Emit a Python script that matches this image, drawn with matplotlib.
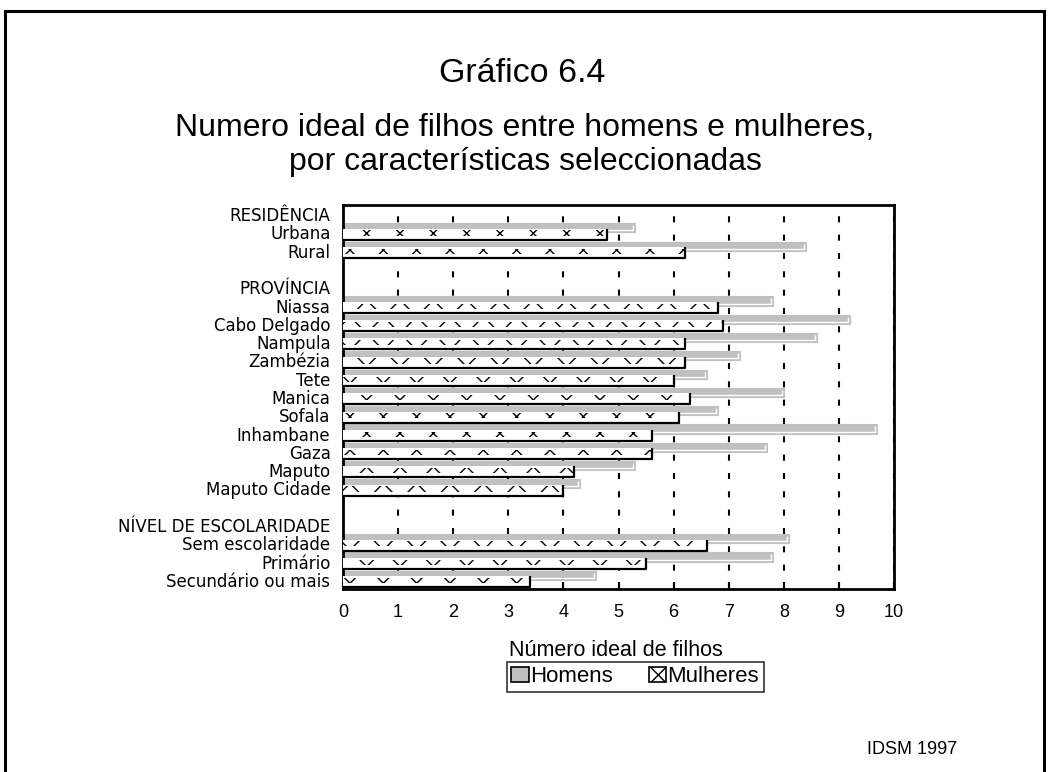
import numpy as np
import matplotlib
matplotlib.use("Agg")
import matplotlib.pyplot as plt
from matplotlib.patches import Patch
from matplotlib.lines import Line2D

# -----------------------------
# Data
# -----------------------------
row_labels = [
    "RESIDÊNCIA", "Urbana", "Rural", "",
    "PROVÍNCIA", "Niassa", "Cabo Delgado", "Nampula", "Zambézia", "Tete",
    "Manica", "Sofala", "Inhambane", "Gaza", "Maputo", "Maputo Cidade", "",
    "NÍVEL DE ESCOLARIDADE", "Sem escolaridade", "Primário", "Secundário ou mais",
]
nan = np.nan
homens = [nan, 5.3, 8.4, nan,
          nan, 7.8, 9.2, 8.6, 7.2, 6.6, 8.0, 6.8, 9.7, 7.7, 5.3, 4.3, nan,
          nan, 8.1, 7.8, 4.6]
mulheres = [nan, 4.8, 6.2, nan,
            nan, 6.8, 6.9, 6.2, 6.2, 6.0, 6.3, 6.1, 5.6, 5.6, 4.2, 4.0, nan,
            nan, 6.6, 5.5, 3.4]
x_ticks = list(range(0, 11))

title = "Gráfico 6.4"
subtitle = "Numero ideal de filhos entre homens e mulheres,\npor características seleccionadas"
xlabel = "Número ideal de filhos"
legend_labels = ["Homens", "Mulheres"]
source = "IDSM 1997"

# -----------------------------
# Figure
# -----------------------------
W, H = 1048, 772
fig = plt.figure(figsize=(W / 100, H / 100), dpi=100)
fig.patch.set_facecolor("white")

ax = fig.add_axes([343 / W, 1 - 589 / H, (894 - 343) / W, (589 - 205) / H])

rows = np.arange(len(row_labels))
h_vals = np.array(homens, dtype=float)
m_vals = np.array(mulheres, dtype=float)
ok = ~np.isnan(h_vals)

gray = "#c0c0c0"
# Homens bars (upper part of each row), drawn first
ax.barh(rows[ok] - 0.25, h_vals[ok], height=0.5, color=gray,
        edgecolor=gray, linewidth=0.8, zorder=2)
# white highlight along bottom and right edge of each grey bar
px_x = 1 / 55.1
px_y = 1 / 18.3
for y, v in zip(rows[ok], h_vals[ok]):
    yb = y - 2 * px_y
    yt = y - 0.5 + 2 * px_y
    xr = v - 2 * px_x
    ax.plot([0, xr, xr], [yb, yb, yt], color="white", lw=1.0, zorder=3,
            solid_capstyle="butt")

# Mulheres bars (lower part, overlapping): white bar + thin hatched band
plt.rcParams["hatch.linewidth"] = 1.0
ax.barh(rows[ok] + 0.1, m_vals[ok], height=0.6, color="white",
        linewidth=0, zorder=4)
ax.barh(rows[ok] + 0.03, m_vals[ok], height=0.28, color="white",
        edgecolor="black", linewidth=0, hatch="x", zorder=5)
for y, v in zip(rows[ok], m_vals[ok]):
    yb = y + 0.4
    yt = y - 0.2
    ax.plot([0, v, v], [yb, yb, yt], color="black", lw=1.6, zorder=6,
            solid_capstyle="butt")

ax.set_xlim(0, 10)
ax.set_ylim(len(row_labels) - 0.5, -0.5)
ax.set_xticks(x_ticks)
ax.set_xticklabels([str(t) for t in x_ticks], fontsize=13,
                   family="Liberation Sans")
ax.set_yticks(rows)
ax.set_yticklabels(row_labels, fontsize=12, family="DejaVu Sans")
ax.tick_params(axis="y", length=0, pad=9)
ax.tick_params(axis="x", direction="in", length=5, width=1.5, pad=11)

ax.set_axisbelow(True)
ax.xaxis.grid(True, color="black", lw=1.5, linestyle=(0, (2.9, 5.9)))
for s in ax.spines.values():
    s.set_linewidth(2)
    s.set_color("black")

# -----------------------------
# Titles and texts
# -----------------------------
fig.text(522 / W, 1 - 73 / H, title, ha="center", va="center",
         fontsize=24.5, family="Liberation Sans")
fig.text(525 / W, 1 - 145 / H, subtitle, ha="center", va="center",
         fontsize=23, family="Liberation Sans", linespacing=1.15)
fig.text(509 / W, 1 - 650 / H, xlabel, ha="left", va="center",
         fontsize=15.5, family="Liberation Sans")
fig.text(867 / W, 1 - 750 / H, source, ha="left", va="center",
         fontsize=13, family="Liberation Sans")

handles = [Patch(facecolor=gray, edgecolor="black", linewidth=1.2),
           Patch(facecolor="white", edgecolor="black", linewidth=1.2, hatch="xx")]
leg = fig.legend(handles, legend_labels, loc="upper left",
                 bbox_to_anchor=(507 / W, 1 - 662 / H), ncol=2,
                 prop={"family": "Liberation Sans", "size": 16},
                 frameon=True, fancybox=False, shadow=False,
                 handlelength=0.8, handleheight=0.65, handletextpad=0.05,
                 columnspacing=1.6, borderpad=0.2, borderaxespad=0)
leg.get_frame().set_edgecolor("black")
leg.get_frame().set_linewidth(1.2)

# outer frame of the page (bottom edge falls outside the picture)
frame_kw = dict(color="black", lw=2.2, transform=fig.transFigure)
fig.add_artist(Line2D([5 / W, 5 / W], [0, 1 - 11 / H], **frame_kw))
fig.add_artist(Line2D([5 / W, 1044 / W], [1 - 11 / H, 1 - 11 / H], **frame_kw))
fig.add_artist(Line2D([1044 / W, 1044 / W], [1 - 11 / H, 0], **frame_kw))

fig.savefig("out.png", dpi=100)
